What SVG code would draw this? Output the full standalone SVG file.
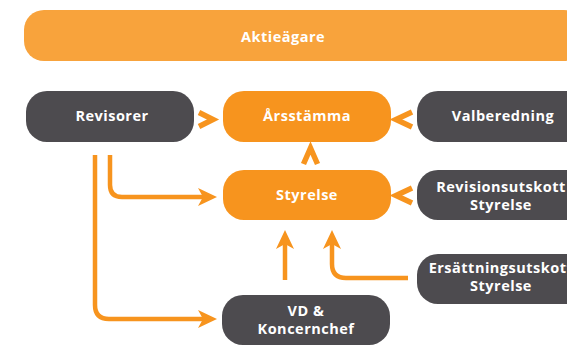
<svg xmlns="http://www.w3.org/2000/svg" width="567" height="345" viewBox="0 0 567 345">
<defs>
<style>
.or{fill:#F7941E}
.bar{fill:#F8A33C}
.gr{fill:#4D4B4F}
.t{font-family:"Open Sans","Noto Sans","DejaVu Sans",sans-serif;font-weight:700;font-size:14.5px;letter-spacing:0.5px;fill:#FFFFFF;text-anchor:middle}
.ln{fill:none;stroke:#F7941E;stroke-width:4.5}
.ch{fill:none;stroke:#F7941E;stroke-width:5.5;stroke-linejoin:miter}
</style>
<marker id="ah" markerUnits="userSpaceOnUse" markerWidth="24" markerHeight="24" viewBox="-2 -12 24 24" refX="8" refY="0" orient="auto">
<path d="M0,-9 L19,0 L0,9 L5,0 Z" fill="#F7941E"/>
</marker>
</defs>
<rect width="567" height="345" fill="#FFFFFF"/>

<g id="aktieagare">
<rect class="bar" x="24" y="10" width="560" height="51" rx="20"/>
<text class="t" x="283" y="42">Aktieägare</text>
</g>

<g id="revisorer">
<rect class="gr" x="26" y="91" width="168" height="51" rx="21"/>
<text class="t" x="112" y="121">Revisorer</text>
</g>

<g id="arsstamma">
<rect class="or" x="223" y="91" width="168" height="51" rx="21"/>
<text class="t" x="307" y="121">Årsstämma</text>
</g>

<g id="valberedning">
<rect class="gr" x="417" y="91" width="170" height="51" rx="21"/>
<text class="t" x="503" y="121">Valberedning</text>
</g>

<g id="styrelse">
<rect class="or" x="223" y="170" width="168" height="50" rx="21"/>
<text class="t" x="307" y="200">Styrelse</text>
</g>

<g id="revisionsutskott">
<rect class="gr" x="417" y="170" width="170" height="50" rx="21"/>
<text class="t" x="501" y="192">Revisionsutskott</text>
<text class="t" x="501" y="210">Styrelse</text>
</g>

<g id="ersattningsutskott">
<rect class="gr" x="417" y="254" width="170" height="50" rx="21"/>
<text class="t" x="501" y="273">Ersättningsutskott</text>
<text class="t" x="501" y="291">Styrelse</text>
</g>

<g id="vd">
<rect class="gr" x="222" y="295" width="168" height="50" rx="21"/>
<text class="t" x="306" y="316">VD &amp;</text>
<text class="t" x="306" y="334">Koncernchef</text>
</g>

<g id="connectors">
<polyline class="ch" points="199,112.5 213,119.5 199,126.5"/>
<polyline class="ch" points="412,112 396,119.5 412,127"/>
<polyline class="ch" points="412,188 396,195.5 412,203"/>
<polyline class="ch" points="303.5,164 310.5,148 317.5,164"/>
<path class="ln" d="M110,155 V185 Q110,197 122,197 H206" marker-end="url(#ah)"/>
<path class="ln" d="M95,155 V305 Q95,319 109,319 H206" marker-end="url(#ah)"/>
<path class="ln" d="M285,280 V241" marker-end="url(#ah)"/>
<path class="ln" d="M408,278 H346 Q332,278 332,264 V241" marker-end="url(#ah)"/>
</g>
</svg>
